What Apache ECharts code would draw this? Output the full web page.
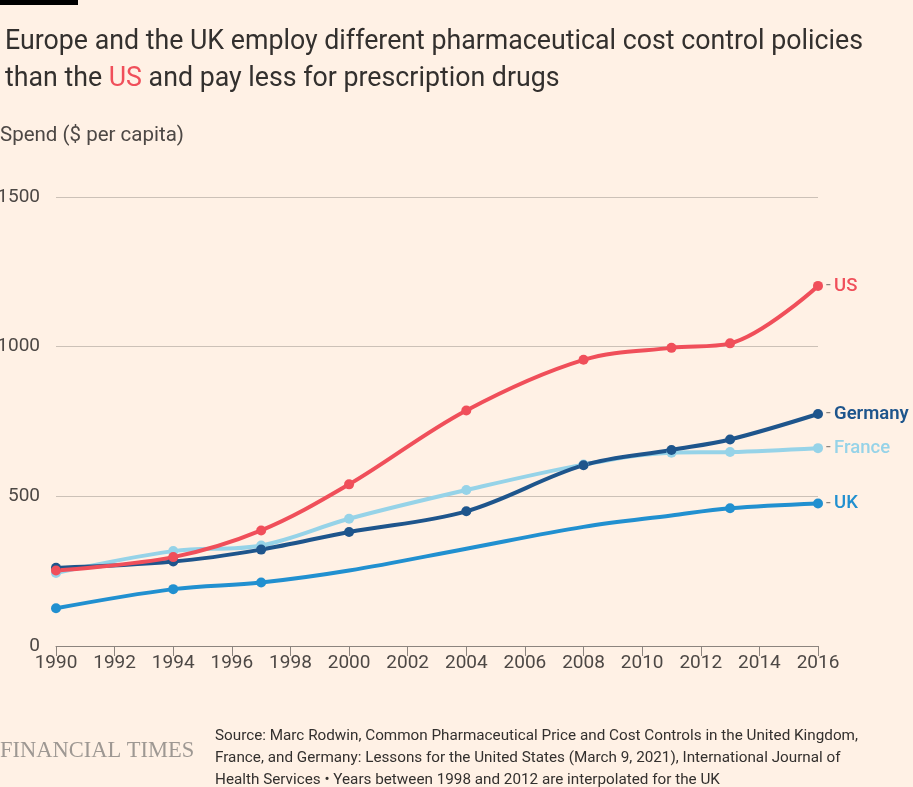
<!DOCTYPE html>
<html>
<head>
<meta charset="utf-8">
<script src="https://cdn.jsdelivr.net/npm/echarts@6/dist/echarts.min.js"></script>
<style>
html,body{margin:0;padding:0;background:#fff1e5;}
#chart{width:913px;height:787px;}
</style>
</head>
<body>
<div id="chart"></div>
<script>
const years = [1990, 1994, 1997, 2000, 2004, 2008, 2011, 2013, 2016];
const usValues = [252, 297, 386, 540, 787, 956, 996, 1011, 1203];
const germanyValues = [261, 282, 322, 381, 450, 604, 655, 690, 775];
const franceValues = [244, 317, 336, 425, 521, 606, 646, 648, 661];
const ukValues = [126, 190, 212, 252, 325, 398, 436, 460, 476];
const ukMarkerYears = [1990, 1994, 1997, 2013, 2016];
const yTicks = [0, 500, 1000, 1500];
const xTicks = [1990, 1992, 1994, 1996, 1998, 2000, 2002, 2004, 2006, 2008, 2010, 2012, 2014, 2016];

const FONT = 'Roboto, "Noto Sans", sans-serif';

function makeSeries(name, vals, color, markerYears) {
  return {
    name: name,
    type: 'line',
    smooth: 0.35,
    data: years.map((y, i) => {
      const item = { value: [y, vals[i]] };
      if (markerYears && markerYears.indexOf(y) < 0) item.symbol = 'none';
      return item;
    }),
    symbol: 'circle',
    symbolSize: 10,
    lineStyle: { width: 4, color: color },
    itemStyle: { color: color },
    endLabel: {
      show: true,
      distance: 8,
      formatter: '{d|-} {n|' + name + '}',
      rich: {
        d: { color: '#8c847e', fontSize: 17, fontFamily: FONT },
        n: { color: color, fontSize: 18.5, fontFamily: FONT, fontWeight: name === 'Germany' ? 600 : 500 }
      }
    },
    emphasis: { disabled: true },
    z: 3
  };
}

const chart = echarts.init(document.getElementById('chart'));
chart.setOption({
  backgroundColor: '#fff1e5',
  animation: false,
  title: {
    left: 0,
    top: 19,
    text: 'Europe and the UK employ different pharmaceutical cost control policies\nthan the {us|US} and pay less for prescription drugs',
    textStyle: {
      fontFamily: FONT,
      fontSize: 26.75,
      fontWeight: 'normal',
      color: '#33302e',
      lineHeight: 37,
      rich: {
        us: { color: '#f04f5a', fontSize: 26.75, fontFamily: FONT, fontWeight: 'normal', lineHeight: 37 }
      }
    }
  },
  grid: { left: 56, right: 95, top: 197, bottom: 141, containLabel: false, outerBoundsMode: 'none' },
  xAxis: {
    type: 'value',
    min: 1990,
    max: 2016,
    interval: 2,
    axisLine: { show: true, lineStyle: { color: '#8c847e', width: 1 } },
    axisTick: { show: true, length: 10, lineStyle: { color: '#8c847e' } },
    splitLine: { show: false },
    axisLabel: {
      margin: 8,
      fontFamily: FONT,
      fontSize: 19,
      color: '#4d4845',
      formatter: v => (xTicks.indexOf(v) >= 0 ? String(v) : '')
    }
  },
  yAxis: {
    type: 'value',
    min: 0,
    max: 1500,
    interval: 500,
    axisLine: { show: false },
    axisTick: { show: false },
    splitLine: { show: true, lineStyle: { color: '#ccc1b7', width: 1 } },
    axisLabel: {
      margin: 16,
      fontFamily: FONT,
      fontSize: 19,
      color: '#4d4845',
      formatter: v => (yTicks.indexOf(v) >= 0 ? String(v) : '')
    }
  },
  series: [
    makeSeries('UK', ukValues, '#2190d0', ukMarkerYears),
    makeSeries('France', franceValues, '#96d3e8'),
    makeSeries('Germany', germanyValues, '#1e558c'),
    makeSeries('US', usValues, '#f04f5a')
  ],
  graphic: [
    { type: 'rect', shape: { x: 0, y: 0, width: 78, height: 5 }, style: { fill: '#000' } },
    { type: 'text', left: 0, top: 125, style: { text: 'Spend ($ per capita)', font: '20.5px ' + FONT, fill: '#4d4845' } },
    { type: 'text', left: 0, top: 740, style: { text: 'FINANCIAL TIMES', font: '22.5px "Liberation Serif", "DejaVu Serif", serif', fill: '#9e9893' } },
    { type: 'text', left: 215, top: 725, style: {
      text: 'Source: Marc Rodwin, Common Pharmaceutical Price and Cost Controls in the United Kingdom,\nFrance, and Germany: Lessons for the United States (March 9, 2021), International Journal of\nHealth Services \u2022 Years between 1998 and 2012 are interpolated for the UK',
      font: '15.25px ' + FONT, fill: '#33302e', lineHeight: 22 } }
  ]
});
</script>
</body>
</html>
